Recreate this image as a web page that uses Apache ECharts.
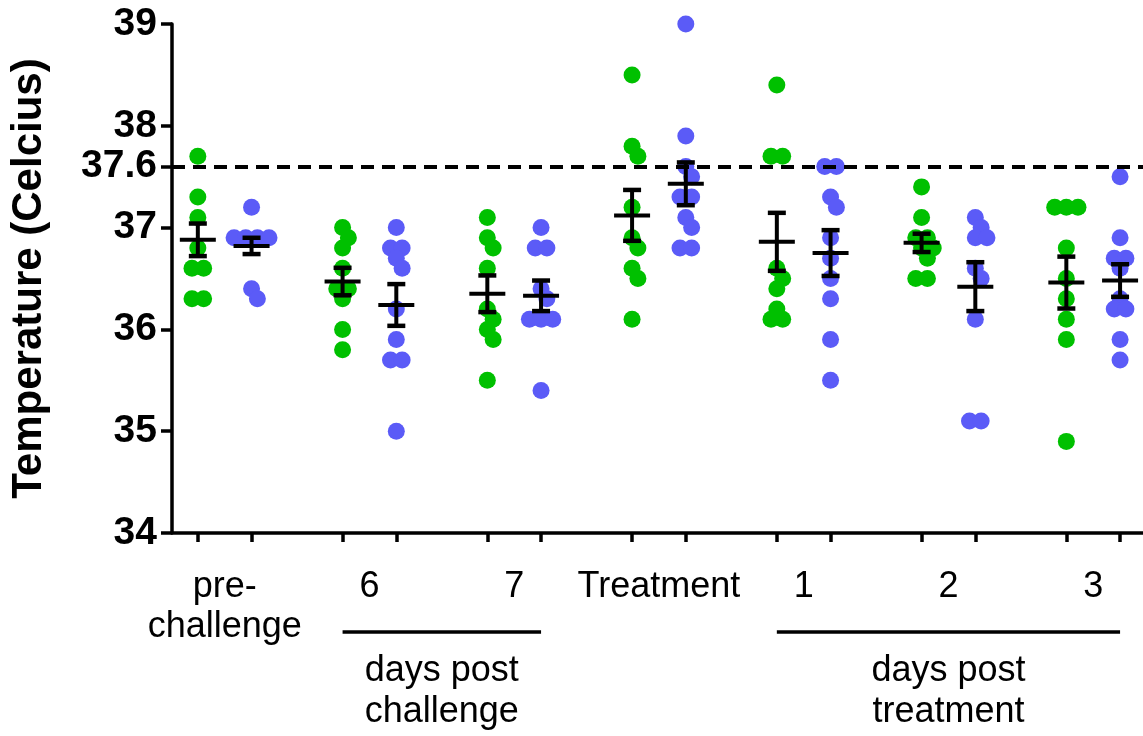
<!DOCTYPE html>
<html lang="en">
<head>
  <meta charset="UTF-8">
  <title>Temperature</title>
  <script src="https://cdn.jsdelivr.net/npm/echarts@6/dist/echarts.min.js"></script>
  <style>
    html, body { margin: 0; padding: 0; background: #fff; }
  </style>
</head>
<body>
<div id="main" style="width: 1143px;height:736px;"></div>
<script type="text/javascript">
    // categories along the x axis
    var groups = ['pre-\nchallenge', '6', '7', 'Treatment', '1', '2', '3'];

    // green group, one list of temperatures per time point
    var greenVals = [
        [37.7, 37.3, 37.1, 36.8, 36.6, 36.6, 36.3, 36.3],
        [37.0, 36.9, 36.8, 36.6, 36.4, 36.4, 36.3, 36.0, 35.8],
        [37.1, 36.9, 36.8, 36.6, 36.2, 36.1, 36.0, 35.9, 35.5],
        [38.5, 37.8, 37.7, 37.2, 36.9, 36.8, 36.6, 36.5, 36.1],
        [38.4, 37.7, 37.7, 36.6, 36.5, 36.4, 36.2, 36.1, 36.1],
        [37.4, 37.1, 36.9, 36.9, 36.8, 36.8, 36.7, 36.5, 36.5],
        [37.2, 37.2, 37.2, 36.8, 36.5, 36.3, 36.1, 35.9, 34.9]
    ];
    // blue group
    var blueVals = [
        [37.2, 36.9, 36.9, 36.9, 36.9, 36.4, 36.3],
        [37.0, 36.8, 36.8, 36.7, 36.6, 36.2, 35.9, 35.7, 35.7, 35.0],
        [37.0, 36.8, 36.8, 36.4, 36.3, 36.1, 36.1, 36.1, 35.4],
        [39.0, 37.9, 37.6, 37.5, 37.3, 37.3, 37.1, 37.0, 36.8, 36.8],
        [37.6, 37.6, 37.3, 37.2, 36.9, 36.7, 36.5, 36.3, 35.9, 35.5],
        [37.1, 37.0, 36.9, 36.9, 36.6, 36.5, 36.1, 35.1, 35.1],
        [37.5, 36.9, 36.7, 36.7, 36.6, 36.3, 36.2, 36.2, 35.9, 35.7]
    ];

    // mean +/- SEM as drawn
    var greenMean = [36.88, 36.47, 36.35, 37.12, 36.86, 36.85, 36.46];
    var greenSem  = [0.16, 0.135, 0.18, 0.25, 0.285, 0.09, 0.255];
    var blueMean  = [36.82, 36.24, 36.33, 37.43, 36.75, 36.42, 36.48];
    var blueSem   = [0.08, 0.205, 0.15, 0.21, 0.225, 0.24, 0.16];

    var yTicks = [34, 35, 36, 37, 37.6, 38, 39];
    var threshold = 37.6;

    // group brackets under the axis
    var brackets = [
        { from: 1, to: 2, text: 'days post\nchallenge' },
        { from: 4, to: 6, text: 'days post\ntreatment' }
    ];

    var FONT = 'Liberation Sans, Arial, Helvetica, sans-serif';
    var GREEN = '#00c000';
    var BLUE = '#5b5bf7';

    // layout
    var gridLeft = 167, gridTop = 24, gridRight = 0, gridBottom = 203;
    var xMin = -0.364, xMax = 6.344, yMin = 34, yMax = 39;
    var half = 0.1856; // offset of each series from the group centre
    var pxX = (1143 - gridLeft - gridRight) / (xMax - xMin);
    var pxY = (736 - gridTop - gridBottom) / (yMax - yMin);
    var colPx = 11.7, minDist = 11.5;

    // simple column scatter: equal values side by side, neighbours nudged
    function swarm(vals, centre) {
        var sorted = vals.slice().sort(function (a, b) { return b - a; });
        var rows = [];
        sorted.forEach(function (v) {
            var r = rows[rows.length - 1];
            if (r && Math.abs(r.v - v) < 1e-9) r.n++;
            else rows.push({ v: v, n: 1 });
        });
        var placed = [];
        var shifts = [0, 0.5, -0.5, 1, -1, 1.5, -1.5, 2, -2];
        rows.forEach(function (r) {
            for (var k = 0; k < shifts.length; k++) {
                var offs = [];
                for (var i = 0; i < r.n; i++) offs.push((i - (r.n - 1) / 2 + shifts[k]) * colPx);
                var ok = offs.every(function (o) {
                    return placed.every(function (p) {
                        return Math.hypot(o - p.o, (r.v - p.v) * pxY) >= minDist;
                    });
                });
                if (ok || k === shifts.length - 1) {
                    offs.forEach(function (o) { placed.push({ o: o, v: r.v }); });
                    break;
                }
            }
        });
        return placed.map(function (p) { return [centre + p.o / pxX, p.v]; });
    }

    var greenData = [], blueData = [], barData = [], xTicks = [];
    groups.forEach(function (g, i) {
        greenData = greenData.concat(swarm(greenVals[i], i - half));
        blueData = blueData.concat(swarm(blueVals[i], i + half));
        barData.push([i - half, greenMean[i], greenSem[i]]);
        barData.push([i + half, blueMean[i], blueSem[i]]);
        xTicks.push(i - half, i + half);
    });

    var myChart = echarts.init(document.getElementById('main'));

    var option = {
        animation: false,
        backgroundColor: '#fff',
        grid: { left: gridLeft, right: gridRight, top: gridTop, bottom: gridBottom },
        xAxis: {
            type: 'value',
            min: xMin,
            max: xMax,
            splitLine: { show: false },
            axisLine: { onZero: false, lineStyle: { color: '#000', width: 3.5 } },
            axisTick: { customValues: xTicks, length: 9, lineStyle: { color: '#000', width: 3.5 } },
            axisLabel: {
                customValues: groups.map(function (g, i) { return i; }),
                formatter: function (v) { return groups[Math.round(v)]; },
                margin: 34,
                color: '#000',
                fontFamily: FONT,
                fontSize: 36,
                lineHeight: 40
            }
        },
        yAxis: {
            type: 'value',
            min: yMin,
            max: yMax,
            interval: 1,
            name: 'Temperature (Celcius)',
            nameLocation: 'middle',
            nameRotate: 90,
            nameGap: 122,
            nameTextStyle: { color: '#000', fontFamily: FONT, fontSize: 42, fontWeight: 'bold' },
            splitLine: { show: false },
            axisLine: { show: true, onZero: false, lineStyle: { color: '#000', width: 3.5 } },
            axisTick: { customValues: yTicks, length: 11, lineStyle: { color: '#000', width: 3.5 } },
            axisLabel: {
                customValues: yTicks,
                margin: 15,
                color: '#000',
                fontFamily: FONT,
                fontSize: 39,
                fontWeight: 'bold'
            }
        },
        series: [{
            name: 'green',
            type: 'scatter',
            symbolSize: 17,
            itemStyle: { color: GREEN, opacity: 1 },
            data: greenData,
            markLine: {
                silent: true,
                symbol: 'none',
                label: { show: false },
                lineStyle: { color: '#000', width: 4, type: [13, 8] },
                data: [{ yAxis: threshold }]
            }
        }, {
            name: 'blue',
            type: 'scatter',
            symbolSize: 17,
            itemStyle: { color: BLUE, opacity: 1 },
            data: blueData
        }, {
            name: 'mean',
            type: 'custom',
            z: 5,
            renderItem: function (params, api) {
                var x = api.value(0), m = api.value(1), e = api.value(2);
                var pm = api.coord([x, m]);
                var pt = api.coord([x, m + e]);
                var pb = api.coord([x, m - e]);
                var st = { stroke: '#000', lineWidth: 4 };
                var cap = { stroke: '#000', lineWidth: 4.5 };
                return {
                    type: 'group',
                    children: [
                        { type: 'line', shape: { x1: pm[0], y1: pt[1], x2: pm[0], y2: pb[1] }, style: st },
                        { type: 'line', shape: { x1: pm[0] - 9, y1: pt[1], x2: pm[0] + 9, y2: pt[1] }, style: cap },
                        { type: 'line', shape: { x1: pm[0] - 9, y1: pb[1], x2: pm[0] + 9, y2: pb[1] }, style: cap },
                        { type: 'line', shape: { x1: pm[0] - 18, y1: pm[1], x2: pm[0] + 18, y2: pm[1] }, style: st }
                    ]
                };
            },
            data: barData
        }]
    };

    myChart.setOption(option);

    // brackets + captions below the tick labels
    var base = myChart.convertToPixel({ gridIndex: 0 }, [0, yMin])[1];
    var graphics = [];
    brackets.forEach(function (b) {
        var x1 = myChart.convertToPixel({ gridIndex: 0 }, [b.from - half, yMin])[0];
        var x2 = myChart.convertToPixel({ gridIndex: 0 }, [b.to + half, yMin])[0];
        graphics.push({
            type: 'line',
            shape: { x1: x1, y1: base + 99, x2: x2, y2: base + 99 },
            style: { stroke: '#000', lineWidth: 3.5 }
        });
        graphics.push({
            type: 'text',
            style: {
                text: b.text,
                x: (x1 + x2) / 2,
                y: base + 118,
                align: 'center',
                verticalAlign: 'top',
                fontFamily: FONT,
                fontSize: 36,
                lineHeight: 41,
                fill: '#000'
            }
        });
    });
    myChart.setOption({ graphic: graphics });
</script>
</body>
</html>
